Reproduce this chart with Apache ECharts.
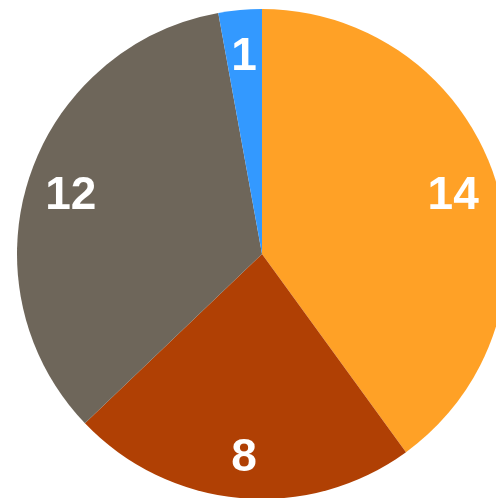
<!DOCTYPE html>
<html>
<head>
<meta charset="utf-8">
<script src="https://cdn.jsdelivr.net/npm/echarts@6/dist/echarts.min.js"></script>
<style>
  html, body { margin: 0; padding: 0; background: #ffffff; }
  #chart { width: 496px; height: 498px; }
</style>
</head>
<body>
<div id="chart"></div>
<script>
// Slice values, in drawing order (clockwise from 12 o'clock)
const categories = ['A', 'B', 'C', 'D'];
const values = [14, 8, 12, 1];
const colors = ['#FFA126', '#B04004', '#6E665A', '#3399FF'];

const sliceData = categories.map((name, i) => ({
  name: name,
  value: values[i],
  itemStyle: { color: colors[i] }
}));

const chart = echarts.init(document.getElementById('chart'), null, { renderer: 'canvas' });

chart.setOption({
  animation: false,
  series: [
    {
      // the visible pie
      type: 'pie',
      center: [262, 254],
      radius: [0, 245],
      startAngle: 90,
      clockwise: true,
      silent: true,
      label: { show: false },
      labelLine: { show: false },
      data: sliceData
    },
    {
      // transparent ring that carries the value labels at ~0.8 of the radius
      type: 'pie',
      center: [262, 254],
      radius: [151, 245],
      startAngle: 90,
      clockwise: true,
      silent: true,
      itemStyle: { color: 'rgba(0,0,0,0)' },
      label: {
        show: true,
        position: 'inside',
        formatter: '{c}',
        color: '#ffffff',
        fontFamily: 'Liberation Sans, Arial, sans-serif',
        fontWeight: 'bold',
        fontSize: 46,
        offset: [0, 4]
      },
      labelLine: { show: false },
      data: categories.map((name, i) => ({ name: name, value: values[i] }))
    }
  ]
});
</script>
</body>
</html>
